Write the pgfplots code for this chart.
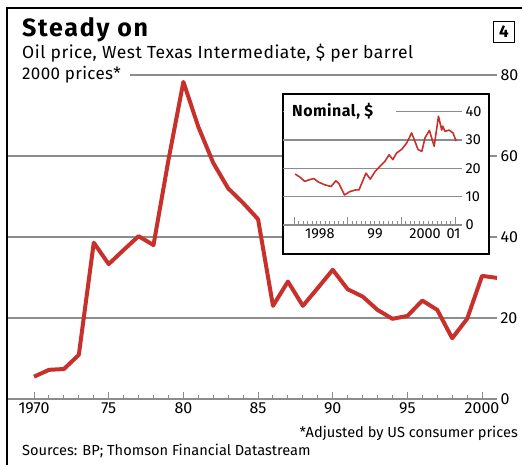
\documentclass[border=0pt]{standalone}
\usepackage{fontspec}
\setmainfont{Fira Sans}
\usepackage{pgfplots}
\pgfplotsset{compat=1.18}
\definecolor{ecored}{RGB}{200,48,44}
\definecolor{gridgray}{RGB}{140,140,140}
\begin{document}
\begin{tikzpicture}[x=1pt,y=1pt]
\path[use as bounding box] (0,0) rectangle (522,465);
\begin{axis}[
  at={(7pt,66pt)}, anchor=south west,
  scale only axis, width=490pt, height=324pt,
  xmin=1968.19, xmax=2001.0, ymin=0, ymax=80,
  axis x line*=bottom, axis y line*=right,
  x axis line style={-, draw=gridgray, line width=1.3pt},
  y axis line style={draw=none},
  xtick={1970,1975,...,2000},
  xticklabels={1970,75,80,85,90,95,2000},
  minor x tick num=4,
  tick align=inside,
  major tick length=7pt, minor tick length=4pt,
  x tick style={draw=gridgray, line width=1pt},
  ytick={0,20,40,60,80},
  y tick style={draw=none},
  ymajorgrids, major grid style={draw=gridgray, line width=1.3pt},
  tick label style={font=\fontsize{16}{18}\selectfont},
  /pgf/number format/assume math mode=true,
  clip=false,
]
\addplot[ecored, line width=4pt, line join=round] coordinates {
(1970,5.5) (1971,7.2) (1972,7.4) (1973,10.9) (1974,38.6) (1975,33.3)
(1976,36.8) (1977,40.2) (1978,38.0) (1979,59.0) (1980,78.3) (1981,67.2)
(1982,58.3) (1983,52.0) (1984,48.4) (1985,44.4) (1986,23.0) (1987,29.0)
(1988,23.0) (1989,27.4) (1990,31.9) (1991,27.1) (1992,25.3) (1993,22.0)
(1994,19.8) (1995,20.5) (1996,24.3) (1997,22.0) (1998,15.0) (1999,19.8)
(2000,30.4) (2001,29.9)
};
\end{axis}
% frame
\draw[line width=1.5pt] (7,0) -- (7,457) -- (522,457);
% box 4
\node[draw, line width=1pt, minimum size=21pt, inner sep=0pt, font=\bfseries\fontsize{17}{19}\selectfont] at (504,433) {4};
% titles
\node[anchor=base west, inner sep=0pt, font=\bfseries\fontsize{25}{27}\selectfont\addfontfeature{LetterSpace=7}] at (22,428) {Steady on};
\node[anchor=base west, inner sep=0pt, font=\fontsize{17.5}{19}\selectfont\addfontfeature{LetterSpace=3}] at (22,406) {Oil price, West Texas Intermediate, \$ per barrel};
\fill[white] (8,384) rectangle (130,397);
\node[anchor=base west, inner sep=0pt, font=\fontsize{17}{19}\selectfont\addfontfeature{LetterSpace=2}] at (22,385) {2000 prices*};
% footers
\node[anchor=base east, inner sep=0pt, font=\fontsize{14.6}{16}\selectfont] at (518,27) {*Adjusted by US consumer prices};
\node[anchor=base west, inner sep=0pt, font=\fontsize{14.6}{16}\selectfont] at (22,9) {Sources: BP; Thomson Financial Datastream};
% inset
\draw[line width=1.2pt, fill=white] (283,211) rectangle (489,371);
\begin{axis}[
  at={(283pt,240pt)}, anchor=south west,
  scale only axis, width=179pt, height=113.3pt,
  xmin=1997.795, xmax=2001.128, ymin=0, ymax=40,
  axis x line*=bottom, axis y line*=right,
  x axis line style={-, draw=gridgray, line width=1.1pt},
  y axis line style={draw=none},
  xtick={1998.48,1999.51,2000.44,2000.97},
  xticklabels={1998,99,2000,01},
  major tick length=0pt,
  minor xtick={1998,1998.08333,...,2001.01},
  minor tick length=3.5pt,
  tick align=inside,
  extra x ticks={1998,1999,2000,2001},
  extra x tick labels={},
  extra x tick style={major tick length=8pt},
  x tick style={draw=gridgray, line width=0.8pt},
  ytick={0,10,20,30,40},
  y tick style={draw=none},
  ymajorgrids, major grid style={draw=gridgray, line width=1.1pt},
  tick label style={font=\fontsize{14.5}{16}\selectfont},
  /pgf/number format/assume math mode=true,
  clip=false,
]
\addplot[ecored, line width=1.6pt, line join=round] coordinates {
(1998.02,18.0) (1998.11,16.9) (1998.20,15.4) (1998.29,16.0) (1998.37,16.4)
(1998.45,15.2) (1998.57,14.2) (1998.69,13.6) (1998.78,15.6) (1998.84,14.5)
(1998.94,10.6) (1999.04,11.8) (1999.15,12.4) (1999.21,12.4) (1999.34,18.3)
(1999.42,16.2) (1999.51,18.9) (1999.60,20.7) (1999.69,22.4) (1999.77,24.8)
(1999.84,23.1) (1999.91,25.4) (2000.01,26.8) (2000.10,29.0) (2000.19,32.5)
(2000.25,29.6) (2000.31,26.6) (2000.38,26.0) (2000.44,30.8) (2000.52,33.4)
(2000.61,27.8) (2000.69,38.4) (2000.75,33.5) (2000.77,34.9) (2000.81,33.1)
(2000.89,33.5) (2000.96,32.5) (2001.02,29.6)
};
\end{axis}
\fill[white] (284,348) rectangle (396,362);
\node[anchor=base west, inner sep=0pt, font=\bfseries\fontsize{16}{18}\selectfont\addfontfeature{LetterSpace=3}] at (292,348) {Nominal, \$};
\end{tikzpicture}
\end{document}
